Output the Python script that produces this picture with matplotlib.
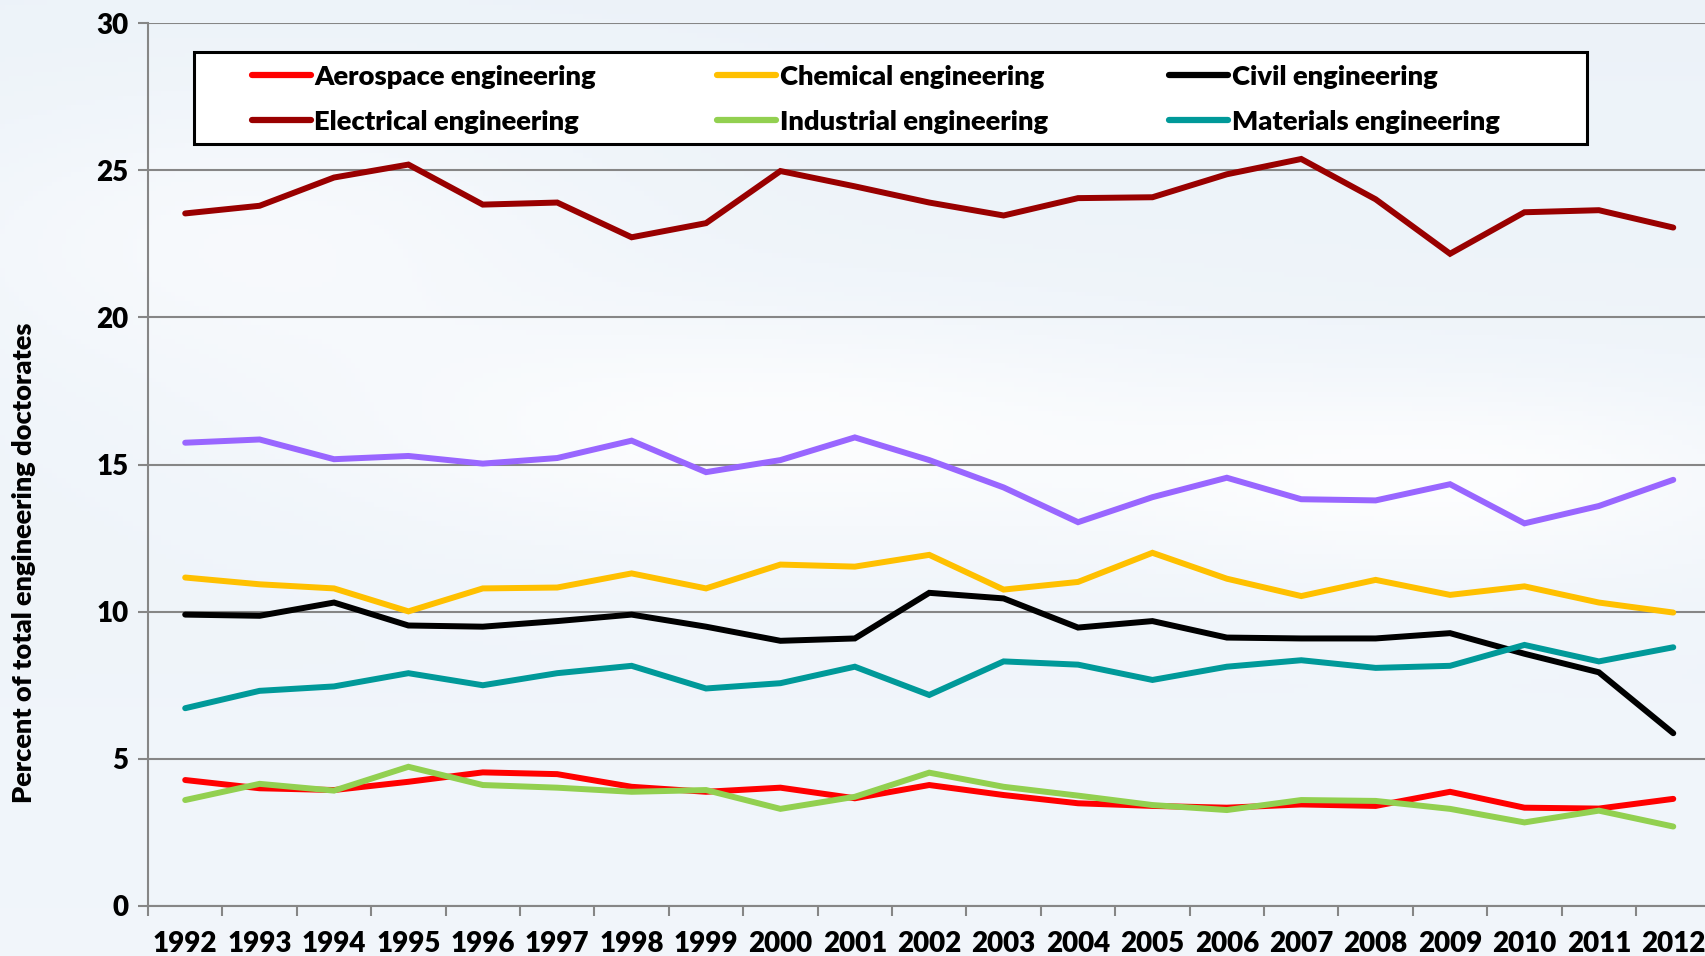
import numpy as np
import matplotlib
matplotlib.use("Agg")
import matplotlib.pyplot as plt
from matplotlib.lines import Line2D
from matplotlib.patches import Rectangle

years = [str(y) for y in range(1992, 2013)]

aerospace = [4.28, 4.00, 3.94, 4.22, 4.54, 4.48, 4.05, 3.88, 4.02, 3.66, 4.11,
             3.77, 3.49, 3.40, 3.34, 3.45, 3.40, 3.88, 3.34, 3.31, 3.64]
chemical = [11.16, 10.93, 10.79, 10.01, 10.79, 10.82, 11.30, 10.79, 11.60, 11.53, 11.93,
            10.75, 11.01, 12.00, 11.12, 10.53, 11.08, 10.57, 10.86, 10.31, 9.97]
civil = [9.90, 9.86, 10.31, 9.53, 9.49, 9.68, 9.90, 9.49, 9.01, 9.09, 10.64,
         10.45, 9.46, 9.68, 9.12, 9.09, 9.09, 9.27, 8.57, 7.94, 5.87]
electrical = [23.53, 23.79, 24.75, 25.19, 23.83, 23.90, 22.72, 23.20, 24.97, 24.45, 23.90,
              23.46, 24.05, 24.08, 24.86, 25.38, 24.01, 22.16, 23.57, 23.64, 23.05]
industrial = [3.60, 4.15, 3.92, 4.73, 4.11, 4.02, 3.88, 3.94, 3.30, 3.71, 4.53,
              4.05, 3.75, 3.43, 3.26, 3.60, 3.57, 3.30, 2.84, 3.24, 2.70]
materials = [6.72, 7.31, 7.46, 7.91, 7.50, 7.91, 8.16, 7.39, 7.57, 8.13, 7.17,
             8.31, 8.20, 7.68, 8.13, 8.35, 8.09, 8.16, 8.87, 8.31, 8.79]
mechanical = [15.74, 15.85, 15.18, 15.29, 15.03, 15.22, 15.81, 14.74, 15.15, 15.92, 15.15,
              14.22, 13.04, 13.89, 14.55, 13.82, 13.78, 14.33, 13.00, 13.59, 14.48]

series = [
    ("Aerospace engineering", aerospace, "#FF0000", True),
    ("Chemical engineering", chemical, "#FFC000", True),
    ("Civil engineering", civil, "#000000", True),
    ("Electrical engineering", electrical, "#990000", True),
    ("Industrial engineering", industrial, "#92D050", True),
    ("Materials engineering", materials, "#009999", True),
    ("Mechanical engineering", mechanical, "#9966FF", False),
]

W, H = 1706, 956
fig = plt.figure(figsize=(W / 100, H / 100), dpi=100)

# soft sky-like background
bg = fig.add_axes([0, 0, 1, 1], zorder=-10)
yy, xx = np.mgrid[0:1:200j, 0:1:360j]
base = 0.5 + 0.5 * yy
blobs = (np.exp(-(((xx - 0.45) / 0.25) ** 2 + ((yy - 0.45) / 0.12) ** 2))
         + np.exp(-(((xx - 0.85) / 0.2) ** 2 + ((yy - 0.5) / 0.1) ** 2))
         + 0.7 * np.exp(-(((xx - 0.15) / 0.2) ** 2 + ((yy - 0.25) / 0.15) ** 2)))
t = np.clip(0.45 * base + 0.65 * np.clip(blobs, 0, 1), 0, 1)
c0 = np.array([0.91, 0.94, 0.97])
c1 = np.array([0.99, 0.993, 0.997])
img = c0[None, None, :] * (1 - t[..., None]) + c1[None, None, :] * t[..., None]
bg.imshow(img, aspect="auto", extent=[0, 1, 0, 1], origin="upper")
bg.axis("off")

ax = fig.add_axes([148 / W, 1 - 906 / H, (W - 148) / W, (906 - 23) / H])
ax.patch.set_alpha(0)

x = np.arange(len(years))
handles = {}
for name, vals, col, inleg in series:
    ln, = ax.plot(x, vals, color=col, lw=4.3, solid_capstyle="round",
                  solid_joinstyle="miter", zorder=3)
    handles[name] = ln

ax.set_ylim(0, 30)
ax.set_xlim(-0.5, 20.44)
ax.set_yticks([0, 5, 10, 15, 20, 25, 30])
ax.yaxis.grid(True, color="#868686", lw=1.5)
ax.set_axisbelow(True)
for s in ["top", "right"]:
    ax.spines[s].set_visible(False)
for s in ["left", "bottom"]:
    ax.spines[s].set_color("#868686")
    ax.spines[s].set_linewidth(1.5)

fontname = "Lato"
WEIGHT = "heavy"
ax.set_xticks(x)
ax.set_xticklabels(years)
ax.set_xticks(np.arange(-0.5, 20.5, 1), minor=True)
ax.tick_params(axis="x", which="major", length=0, pad=18)
ax.tick_params(axis="x", which="minor", length=7, width=1.5, color="#868686")
ax.tick_params(axis="y", which="major", length=7, width=1.5, color="#868686", pad=7)
for lab in ax.get_xticklabels() + ax.get_yticklabels():
    lab.set_fontfamily(fontname)
    lab.set_fontweight(WEIGHT)
    lab.set_fontsize(20)

fig.text(24 / W, 1 - 563 / H, "Percent of total engineering doctorates",
         rotation=90, ha="center", va="center", fontsize=19.5,
         fontweight=WEIGHT, family=fontname)

# legend (row-major order via column-wise handle order)
order = ["Aerospace engineering", "Electrical engineering",
         "Chemical engineering", "Industrial engineering",
         "Civil engineering", "Materials engineering"]
leg_handles = [Line2D([], [], color=handles[n].get_color(), lw=4.5,
                      solid_capstyle="round") for n in order]
leg = fig.legend(leg_handles, order, ncol=3, loc="upper left",
                 bbox_to_anchor=(252 / W, 1 - 65 / H), frameon=False,
                 prop={"family": fontname, "weight": WEIGHT, "size": 19.7},
                 handlelength=2.15, handletextpad=0.12, columnspacing=4.45,
                 labelspacing=0.75, borderpad=0, borderaxespad=0)
fig.add_artist(Rectangle((194 / W, 1 - 144 / H), (1587 - 194) / W, 92 / H,
                         transform=fig.transFigure, facecolor="white",
                         edgecolor="black", lw=2.2, zorder=1))
leg.set_zorder(5)

fig.savefig("out.png", dpi=100)
